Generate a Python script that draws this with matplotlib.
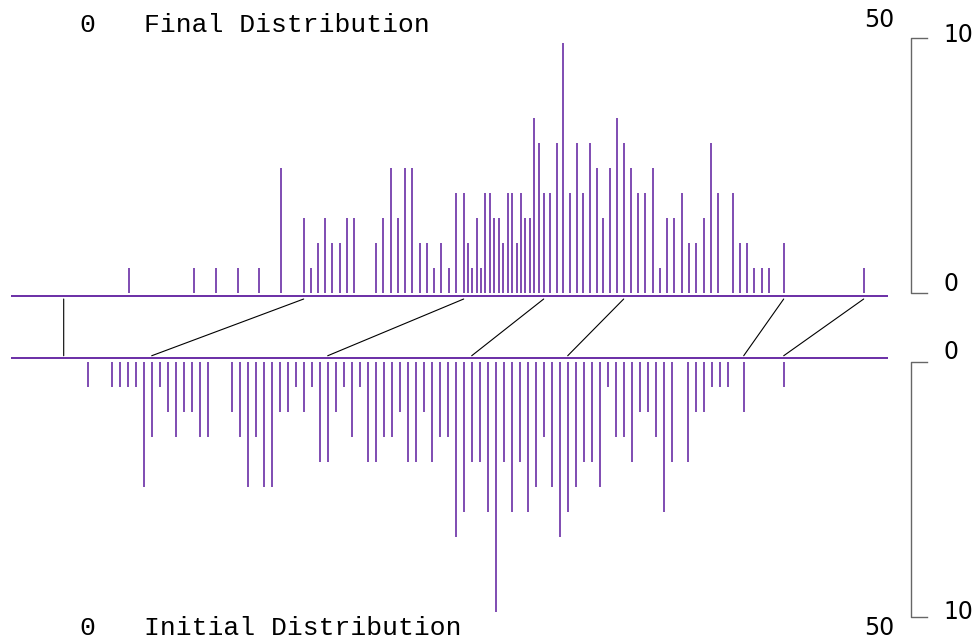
import matplotlib
matplotlib.use('Agg')
from matplotlib import pyplot as plt
from matplotlib.patches import ConnectionPatch

# initial distribution (bottom), positions on a 0.5 grid
initial_x = [0, 1.5, 2, 2.5, 3, 3.5, 4, 4.5, 5, 5.5, 6, 6.5, 7, 7.5,
             9, 9.5, 10, 10.5, 11, 11.5, 12, 12.5, 13, 13.5, 14,
             14.5, 15, 15.5, 16, 16.5, 17, 17.5, 18, 18.5, 19, 19.5, 20, 20.5, 21, 21.5,
             22, 22.5, 23, 23.5, 24, 24.5, 25, 25.5, 26, 26.5, 27, 27.5, 28, 28.5, 29, 29.5,
             30, 30.5, 31, 31.5, 32, 32.5, 33, 33.5, 34, 34.5, 35, 35.5, 36, 36.5,
             37.5, 38, 38.5, 39, 39.5, 40, 41, 43.5]

counts = [1, 1, 1, 1, 1, 5, 3, 1, 2, 3, 2, 2, 3, 3,
          2, 3, 5, 3, 5, 5, 2, 2, 1, 2, 1,
          4, 4, 2, 1, 3, 1, 4, 4, 3, 3, 2, 4, 4, 2, 4, 3, 3, 7, 6, 4, 4, 6, 10, 4, 6, 4, 6, 5, 3, 5, 7,
          6, 5, 4, 4, 5, 1, 3, 3, 4, 2, 2, 3, 6, 4,
          4, 2, 2, 1, 1, 1, 2, 1]

# final distribution (top): same counts, moved positions
final_x = [2.58, 6.65, 8.01, 9.37, 10.73, 12.08, 13.5, 13.93, 14.38, 14.84, 15.29, 15.75, 16.21, 16.66,
           18.02, 18.48, 18.93, 19.39, 19.84, 20.29, 20.75, 21.21, 21.66, 22.11, 22.57,
           23.02, 23.5, 23.75, 24.03, 24.31, 24.59, 24.86, 25.14, 25.42, 25.70, 25.98, 26.25, 26.53,
           26.81, 27.09, 27.36, 27.64, 27.92, 28.20, 28.5, 28.89, 29.31, 29.73, 30.14, 30.56, 30.98,
           31.39, 31.81, 32.23, 32.64, 33.06,
           33.5, 33.93, 34.39, 34.84, 35.30, 35.76, 36.21, 36.66, 37.12, 37.58, 38.03, 38.49, 38.94, 39.39,
           40.31, 40.76, 41.22, 41.67, 42.13, 42.58, 43.5, 48.5]
final_counts = list(counts)

# lines joining initial -> final positions
knots_initial = [-1.5, 4, 15, 24, 30, 41, 43.5]
knots_final = [-1.5, 13.5, 23.5, 28.5, 33.5, 43.5, 48.5]

purple = '#6a2ea6'
grey = '#666666'
mono = 'Liberation Mono'

fig = plt.figure(figsize=(9.8, 6.41), dpi=100)
xlim = (-87.7 / 16, (980 - 87.7) / 16)

ax_top = fig.add_axes([0, 1 - 326 / 641, 1, 326 / 641])
ax_top.set_xlim(*xlim)
ax_top.set_ylim(-1.32, 11.72)
ax_top.axis('off')

ax_bot = fig.add_axes([0, 0, 1, 315 / 641])
ax_bot.set_xlim(*xlim)
ax_bot.set_ylim(11.16, -1.44)
ax_bot.axis('off')

# bars
ax_top.vlines(final_x, 0, final_counts, color=purple, lw=1.2)
ax_bot.vlines(initial_x, 0, counts, color=purple, lw=1.2)

# baselines
ax_top.hlines(-0.12, -4.8, 50, color=purple, lw=1.4)
ax_bot.hlines(-0.15, -4.8, 50, color=purple, lw=1.4)

# connecting lines
for xb, xt in zip(knots_initial, knots_final):
    con = ConnectionPatch(xyA=(xb, -0.25), coordsA=ax_bot.transData,
                          xyB=(xt, -0.24), coordsB=ax_top.transData,
                          color='black', lw=0.8)
    fig.add_artist(con)

# scale brackets on the right
ax_top.plot([52.44, 51.44, 51.44, 52.44], [10.19, 10.19, 0.01, 0.01], color=grey, lw=1.0, clip_on=False)
ax_bot.plot([52.44, 51.44, 51.44, 52.44], [-0.01, -0.01, 10.19, 10.19], color=grey, lw=1.0, clip_on=False)
ax_top.text(53.5, 10.32, '10', fontsize=17, va='center', ha='left')
ax_top.text(53.5, 0.36, '0', fontsize=17, va='center', ha='left')
ax_bot.text(53.5, -0.41, '0', fontsize=17, va='center', ha='left')
ax_bot.text(53.5, 9.99, '10', fontsize=17, va='center', ha='left')

# titles
ax_top.text(0, 10.44, '0', family=mono, fontsize=19, ha='center', va='baseline')
ax_top.text(3.5, 10.44, 'Final Distribution', family=mono, fontsize=19, ha='left', va='baseline')
ax_top.text(49.45, 10.63, '50', fontsize=17, ha='center', va='baseline')

ax_bot.text(0, 10.92, '0', family=mono, fontsize=19, ha='center', va='baseline')
ax_bot.text(3.5, 10.92, 'Initial Distribution', family=mono, fontsize=19, ha='left', va='baseline')
ax_bot.text(49.45, 10.92, '50', fontsize=17, ha='center', va='baseline')

plt.savefig('out.png', dpi=100)
